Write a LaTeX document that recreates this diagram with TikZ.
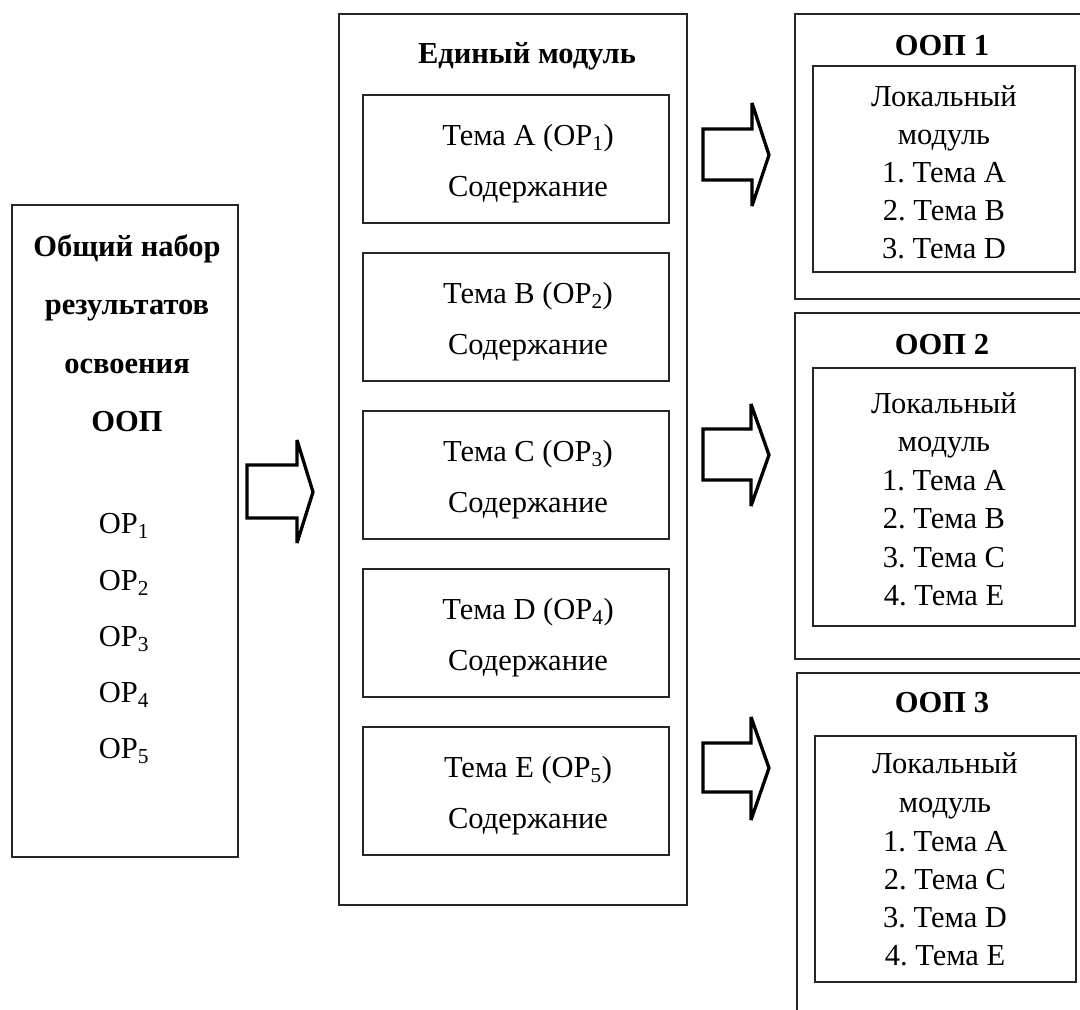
\documentclass[tikz,border=0pt]{standalone}
\usepackage{fontspec}
\setmainfont{Liberation Serif}
\frenchspacing
\begin{document}
\begin{tikzpicture}[x=1pt,y=-1pt,
  txt/.style={font=\fontsize{30.5}{35}\selectfont, inner sep=0pt, anchor=base},
  btxt/.style={font=\fontsize{30.5}{35}\selectfont\bfseries, inner sep=0pt, anchor=base},
  frame/.style={draw=black!85, line width=1.7pt, inner sep=0pt},
  thinframe/.style={draw=black!85, line width=1.3pt, inner sep=0pt},
  blockarrow/.style={draw=black, line width=3.3pt, line join=miter, miter limit=4, fill=white}]
\useasboundingbox (0,0) rectangle (1080,1010);
\fill[white] (0,0) rectangle (1080,1010);
\clip (0,0) rectangle (1080,1010);

% left box
\node[thinframe, minimum width=226pt, minimum height=652pt] (left) at (125,531) {};
\node[btxt] (l1) at (127,256) {Общий набор};
\node[btxt] (l2) at (127,314) {результатов};
\node[btxt] (l3) at (127,373) {освоения};
\node[btxt] (l4) at (127,431) {ООП};
\node[txt] (op1) at (124,533) {ОР\textsubscript{1}};
\node[txt] (op2) at (124,590) {ОР\textsubscript{2}};
\node[txt] (op3) at (124,646) {ОР\textsubscript{3}};
\node[txt] (op4) at (124,702) {ОР\textsubscript{4}};
\node[txt] (op5) at (124,758) {ОР\textsubscript{5}};

% middle box
\node[frame, minimum width=348pt, minimum height=891pt] (mid) at (513,459.5) {};
\node[btxt] (midtitle) at (527,63) {Единый модуль};
\foreach \i/\L/\n in {0/А/1,1/В/2,2/С/3,3/D/4,4/Е/5}{
  \pgfmathsetmacro{\top}{95+\i*158}
  \node[frame, minimum width=306pt, minimum height=128pt] (tema\n) at (516,\top+64) {};
  \node[txt] (temat\n) at (528,\top+50) {Тема \L\ (ОР\textsubscript{\n})};
  \node[txt] (temas\n) at (528,\top+101) {Содержание};
}

% block arrows
\draw[blockarrow] (247,465) -- (297,465) -- (297,440) -- (313,492) -- (297,543) -- (297,518) -- (247,518) -- cycle;
\draw[blockarrow] (703,129) -- (752,129) -- (752,103) -- (769,155) -- (752,206) -- (752,180) -- (703,180) -- cycle;
\draw[blockarrow] (703,429) -- (751,429) -- (751,404) -- (769,455) -- (751,506) -- (751,480) -- (703,480) -- cycle;
\draw[blockarrow] (703,743) -- (751,743) -- (751,717) -- (769,768) -- (751,820) -- (751,792) -- (703,792) -- cycle;

% OOP 1
\node[frame, minimum width=300pt, minimum height=285pt] (oop1) at (945,156.5) {};
\node[btxt] (oop1t) at (942,55) {ООП 1};
\node[thinframe, minimum width=262pt, minimum height=206pt] (loc1) at (944,169) {};
\node[txt] (a1) at (944,106) {Локальный};
\node[txt] (a2) at (944,144) {модуль};
\node[txt] (a3) at (944,182) {1. Тема А};
\node[txt] (a4) at (944,220) {2. Тема В};
\node[txt] (a5) at (944,258) {3. Тема D};

% OOP 2
\node[frame, minimum width=300pt, minimum height=346pt] (oop2) at (945,486) {};
\node[btxt] (oop2t) at (942,354) {ООП 2};
\node[thinframe, minimum width=262pt, minimum height=258pt] (loc2) at (944,497) {};
\node[txt] (b1) at (944,413) {Локальный};
\node[txt] (b2) at (944,451) {модуль};
\node[txt] (b3) at (944,490) {1. Тема А};
\node[txt] (b4) at (944,528) {2. Тема В};
\node[txt] (b5) at (944,567) {3. Тема С};
\node[txt] (b6) at (944,605) {4. Тема Е};

% OOP 3
\node[frame, minimum width=298pt, minimum height=367pt] (oop3) at (946,856.5) {};
\node[btxt] (oop3t) at (942,712) {ООП 3};
\node[thinframe, minimum width=261pt, minimum height=246pt] (loc3) at (945.5,859) {};
\node[txt] (c1) at (945,773) {Локальный};
\node[txt] (c2) at (945,812) {модуль};
\node[txt] (c3) at (945,851) {1. Тема А};
\node[txt] (c4) at (945,889) {2. Тема С};
\node[txt] (c5) at (945,927) {3. Тема D};
\node[txt] (c6) at (945,965) {4. Тема Е};
\end{tikzpicture}
\end{document}
